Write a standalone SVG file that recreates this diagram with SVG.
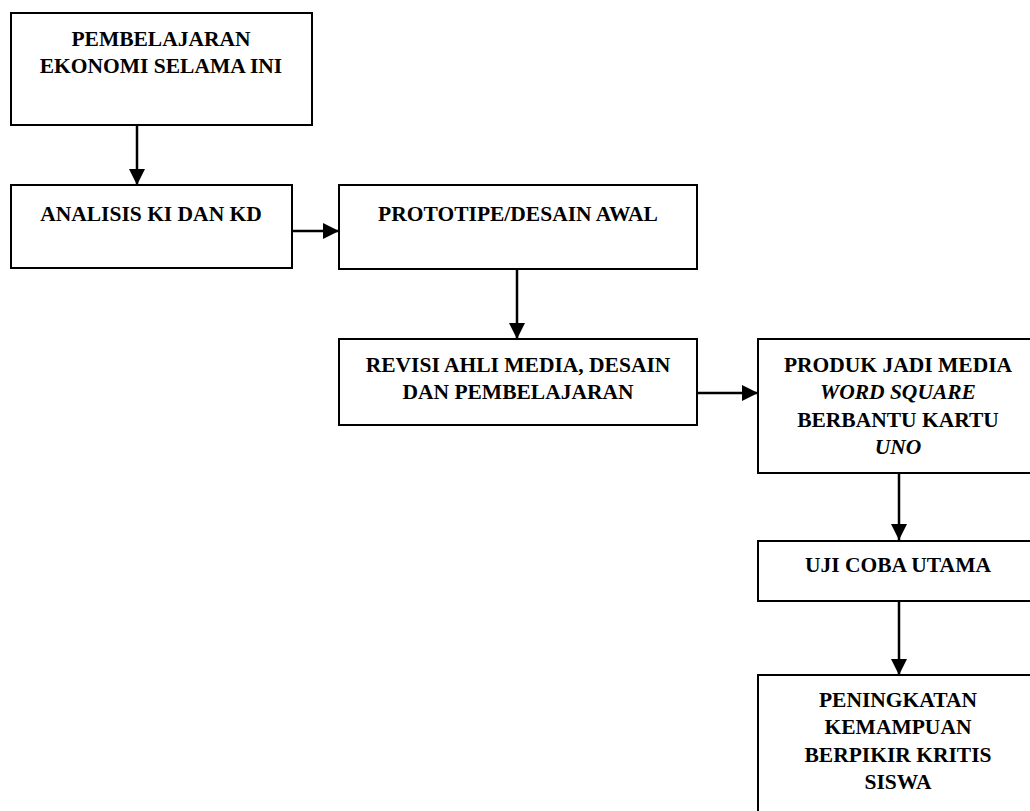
<svg xmlns="http://www.w3.org/2000/svg" width="1030" height="811" viewBox="0 0 1030 811">
<style>
.box{fill:#fff;stroke:#000;stroke-width:2}
.t{font-family:"Liberation Serif","Times New Roman",serif;font-weight:bold;font-size:21.5px;fill:#000;text-anchor:middle}
.i{font-style:italic}
.c{fill:none;stroke:#000;stroke-width:2.5}
</style>
<defs>
<marker id="ah" viewBox="0 0 10 10" refX="10" refY="5" markerWidth="6.4" markerHeight="6.4" markerUnits="strokeWidth" orient="auto">
<path d="M0,0 L10,5 L0,10 Z" fill="#000"/>
</marker>
</defs>
<rect width="1030" height="811" fill="#fff"/>
<g id="connectors">
<line class="c" x1="137" y1="125" x2="137" y2="185" marker-end="url(#ah)"/>
<line class="c" x1="292" y1="231" x2="339" y2="231" marker-end="url(#ah)"/>
<line class="c" x1="517" y1="269" x2="517" y2="339" marker-end="url(#ah)"/>
<line class="c" x1="697" y1="393" x2="758" y2="393" marker-end="url(#ah)"/>
<line class="c" x1="899" y1="473" x2="899" y2="540" marker-end="url(#ah)"/>
<line class="c" x1="899" y1="601" x2="899" y2="675" marker-end="url(#ah)"/>
</g>
<g id="n1">
<rect class="box" x="11" y="13" width="301" height="112"/>
<text class="t" x="161" y="46">PEMBELAJARAN</text>
<text class="t" x="161" y="73">EKONOMI SELAMA INI</text>
</g>
<g id="n2">
<rect class="box" x="11" y="185" width="281" height="83"/>
<text class="t" x="151" y="221">ANALISIS KI DAN KD</text>
</g>
<g id="n3">
<rect class="box" x="339" y="185" width="358" height="84"/>
<text class="t" x="518" y="221">PROTOTIPE/DESAIN AWAL</text>
</g>
<g id="n4">
<rect class="box" x="339" y="339" width="358" height="86"/>
<text class="t" x="518" y="372">REVISI AHLI MEDIA, DESAIN</text>
<text class="t" x="518" y="399">DAN PEMBELAJARAN</text>
</g>
<g id="n5">
<rect class="box" x="758" y="339" width="280" height="134"/>
<text class="t" x="898" y="372">PRODUK JADI MEDIA</text>
<text class="t i" x="898" y="399">WORD SQUARE</text>
<text class="t" x="898" y="427">BERBANTU KARTU</text>
<text class="t i" x="898" y="454">UNO</text>
</g>
<g id="n6">
<rect class="box" x="758" y="541" width="280" height="60"/>
<text class="t" x="898" y="572">UJI COBA UTAMA</text>
</g>
<g id="n7">
<rect class="box" x="758" y="675" width="280" height="150"/>
<text class="t" x="898" y="707">PENINGKATAN</text>
<text class="t" x="898" y="734">KEMAMPUAN</text>
<text class="t" x="898" y="762">BERPIKIR KRITIS</text>
<text class="t" x="898" y="789">SISWA</text>
</g>
</svg>
